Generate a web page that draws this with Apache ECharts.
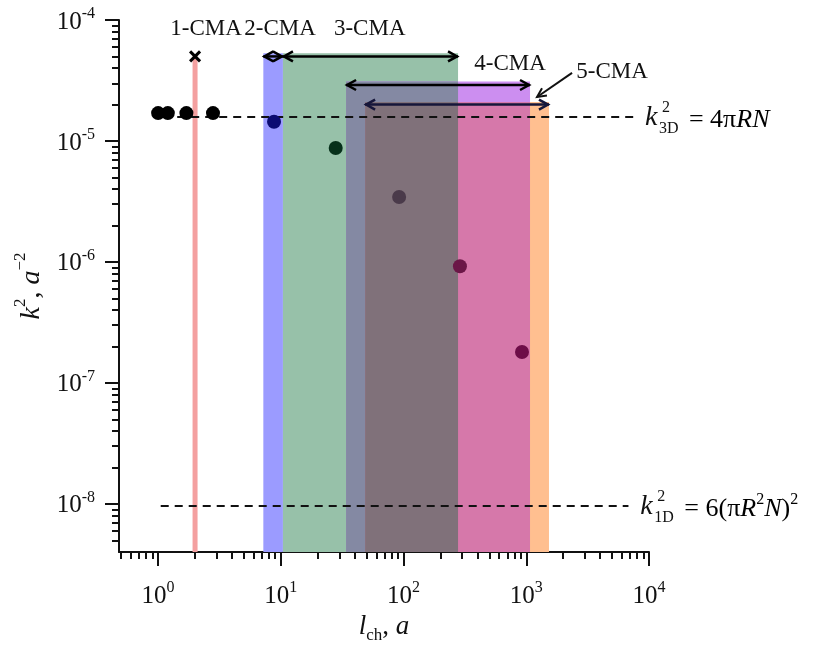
<!DOCTYPE html>
<html>
<head>
<meta charset="utf-8">
<style>
html, body { margin: 0; padding: 0; background: #fff; }
#chart { width: 815px; height: 649px; }
</style>
<script src="https://cdn.jsdelivr.net/npm/echarts@6/dist/echarts.min.js"></script>
</head>
<body>
<div id="chart"></div>
<script>
const SERIF = '"Liberation Serif", "DejaVu Serif", serif';
const INK = '#111';

// measured points: characteristic length l_ch (a) vs k^2 (a^-2)
const dotL = [1.0, 1.2, 1.7, 2.8, 8.8, 28, 92, 288, 923];
const dotK2 = [1.7e-5, 1.7e-5, 1.7e-5, 1.7e-5, 1.44e-5, 8.75e-6, 3.44e-6, 9.2e-7, 1.8e-7];
const dotColors = ['#000', '#000', '#000', '#000', '#0c0c72', '#06301a', '#4a3a4a', '#6b1747', '#6d0d48'];

// CMA ranges along l_ch
const cmaNames = ['1-CMA', '2-CMA', '3-CMA', '4-CMA', '5-CMA'];
const cmaFrom = [2, 7.2, 10.4, 34, 48.6];
const cmaTo = [2, 10.4, 278, 1073, 1531];
const cmaArrowK2 = [5e-5, 5e-5, 5e-5, 2.9e-5, 2.0e-5];
const cmaTopK2 = [5e-5, 5.3e-5, 5.3e-5, 3.1e-5, 2.1e-5];
const cmaFill = ['#f4a0a0', '#9b9bff', '#97c1a9', '#cc8ef0', '#ffbf90'];
const cmaArrowColor = ['#000', '#000', '#000', '#000', '#16163a'];
const cmaLabelL = [2.46, 9.86, 53, 738, 5000];
const cmaLabelK2 = [8.4e-5, 8.4e-5, 8.4e-5, 4.33e-5, 3.7e-5];
// pointer from the 5-CMA caption to its band
const pointerFrom = [2360, 3.65e-5];
const pointerTo = [1224, 2.31e-5];

// shading where CMA ranges overlap (indices into the CMA arrays)
const overlapSets = [[2, 3], [3, 4], [2, 3, 4]];
const overlapFill = ['#8489a3', '#d678aa', '#80717a'];

// limiting values of k^2
const k3D = 1.58e-5;
const k1D = 9.6e-9;
const k3DSpan = [1.1, 7900];
const k1DSpan = [1.05, 6800];
const k3DLabelAt = [9270, k3D];
const k1DLabelAt = [8500, k1D];

// axes
const lMin = 0.48, lMax = 1e4;
const kMin = 4e-9, kMax = 1e-4;
const lMajor = [1, 10, 100, 1000, 10000];
const kMajor = [1e-8, 1e-7, 1e-6, 1e-5, 1e-4];

function minorTicks(e0, e1, lo, hi) {
  const out = [];
  for (let e = e0; e <= e1; e++) {
    for (let m = 2; m <= 9; m++) {
      const v = m * Math.pow(10, e);
      if (v > lo * 1.0001 && v < hi * 0.9999) out.push(v);
    }
  }
  return out;
}
const lMinor = minorTicks(-1, 3, lMin, lMax);
const kMinor = minorTicks(-9, -5, kMin, kMax);

const exponent = v => Math.round(Math.log10(v));
const tickRich = {
  b: { fontSize: 25, fontFamily: SERIF, color: INK, lineHeight: 29, verticalAlign: 'bottom' },
  s: { fontSize: 16, fontFamily: SERIF, color: INK, lineHeight: 19, verticalAlign: 'top' }
};

// band rectangles: single ranges first, then overlaps on top
const bandData = [];
for (let i = 0; i < cmaNames.length; i++) {
  bandData.push({ value: [cmaFrom[i], cmaTo[i], cmaTopK2[i]], itemStyle: { color: cmaFill[i] } });
}
overlapSets.forEach((set, j) => {
  const from = Math.max(...set.map(i => cmaFrom[i]));
  const to = Math.min(...set.map(i => cmaTo[i]));
  const top = Math.min(...set.map(i => cmaTopK2[i]));
  bandData.push({ value: [from, to, top], itemStyle: { color: overlapFill[j] } });
});

const arrowData = cmaNames.map((n, i) => ({
  value: [cmaFrom[i], cmaTo[i], cmaArrowK2[i]],
  itemStyle: { color: cmaArrowColor[i] }
}));

const labelData = cmaNames.map((n, i) => ({ value: [cmaLabelL[i], cmaLabelK2[i]], name: n }));

const scatterData = dotL.map((l, i) => ({ value: [l, dotK2[i]], itemStyle: { color: dotColors[i], opacity: 1 } }));

function sym(x, y, text, size, italic) {
  return {
    type: 'text', x: x, y: y,
    style: {
      text: text, fontSize: size, fontFamily: SERIF, fontStyle: italic ? 'italic' : 'normal',
      fill: INK, align: 'left', verticalAlign: 'middle'
    }
  };
}
const formulaRich = {
  n: { fontSize: 26, fontFamily: SERIF, color: INK, lineHeight: 30, verticalAlign: 'bottom' },
  i: { fontSize: 26, fontFamily: SERIF, fontStyle: 'italic', color: INK, lineHeight: 30, verticalAlign: 'bottom' },
  s: { fontSize: 16, fontFamily: SERIF, color: INK, lineHeight: 19, verticalAlign: 'top' }
};
function formula(p, sub, rest) {
  return {
    type: 'group',
    children: [
      sym(p[0], p[1] + 1, 'k', 28, true),
      sym(p[0] + 17, p[1] - 9, '2', 16, false),
      sym(p[0] + 14, p[1] + 12, sub, 16, false),
      {
        type: 'text', x: p[0] + 44, y: p[1] + 1,
        style: { text: rest, rich: formulaRich, align: 'left', verticalAlign: 'middle' }
      }
    ]
  };
}

const option = {
  animation: false,
  backgroundColor: '#fff',
  grid: { left: 119, right: 166, top: 20, bottom: 97, outerBoundsMode: 'none', containLabel: false },
  xAxis: [
    {
      type: 'log', logBase: 10, min: lMin, max: lMax, position: 'bottom',
      name: '{i|l}{sub|ch}{n|, }{i|a}', nameLocation: 'middle', nameGap: 58,
      nameTextStyle: {
        rich: {
          i: { fontSize: 27, fontFamily: SERIF, fontStyle: 'italic', color: INK, lineHeight: 30, verticalAlign: 'top' },
          n: { fontSize: 27, fontFamily: SERIF, color: INK, lineHeight: 30, verticalAlign: 'top' },
          sub: { fontSize: 17, fontFamily: SERIF, color: INK, lineHeight: 20, verticalAlign: 'bottom' }
        }
      },
      axisLine: { show: true, onZero: false, lineStyle: { color: INK, width: 2 } },
      axisTick: { show: true, length: 14, lineStyle: { color: INK, width: 2 }, customValues: lMajor },
      axisLabel: { customValues: lMajor, margin: 28, formatter: v => `{b|10}{s|${exponent(v)}}`, rich: tickRich },
      splitLine: { show: false }
    },
    {
      type: 'log', logBase: 10, min: lMin, max: lMax, position: 'bottom',
      axisLine: { show: false },
      axisTick: { show: true, length: 7, lineStyle: { color: INK, width: 2 }, customValues: lMinor },
      axisLabel: { show: false },
      splitLine: { show: false }
    }
  ],
  yAxis: [
    {
      type: 'log', logBase: 10, min: kMin, max: kMax, position: 'left',
      name: '{i|k}{s|2}{n|, }{i|a}{s|\u22122}', nameLocation: 'middle', nameGap: 70, nameRotate: 90,
      nameTextStyle: {
        rich: {
          i: { fontSize: 28, fontFamily: SERIF, fontStyle: 'italic', color: INK, lineHeight: 34, verticalAlign: 'bottom' },
          n: { fontSize: 28, fontFamily: SERIF, color: INK, lineHeight: 34, verticalAlign: 'bottom' },
          s: { fontSize: 17, fontFamily: SERIF, color: INK, lineHeight: 20, verticalAlign: 'top' }
        }
      },
      axisLine: { show: true, onZero: false, lineStyle: { color: INK, width: 2 } },
      axisTick: { show: true, length: 14, lineStyle: { color: INK, width: 2 }, customValues: kMajor },
      axisLabel: { customValues: kMajor, margin: 24, formatter: v => `{b|10}{s|${exponent(v)}}`, rich: tickRich },
      splitLine: { show: false }
    },
    {
      type: 'log', logBase: 10, min: kMin, max: kMax, position: 'left',
      axisLine: { show: false },
      axisTick: { show: true, length: 7, lineStyle: { color: INK, width: 2 }, customValues: kMinor },
      axisLabel: { show: false },
      splitLine: { show: false }
    }
  ],
  series: [
    {
      // CMA bands (a single value is drawn as a thin vertical strip)
      type: 'custom', xAxisIndex: 0, yAxisIndex: 0, z: 1, silent: true,
      data: bandData,
      renderItem(params, api) {
        const from = api.value(0), to = api.value(1), top = api.value(2);
        const a = api.coord([from, top]);
        const b = api.coord([to, kMin]);
        const color = api.visual('color');
        if (from === to) {
          return { type: 'rect', shape: { x: a[0] - 2.5, y: a[1], width: 5, height: b[1] - a[1] }, style: { fill: color } };
        }
        return { type: 'rect', shape: { x: a[0], y: a[1], width: b[0] - a[0], height: b[1] - a[1] }, style: { fill: color } };
      }
    },
    {
      type: 'line', xAxisIndex: 0, yAxisIndex: 0, z: 3, silent: true,
      showSymbol: false, symbol: 'none',
      data: [[k3DSpan[0], k3D], [k3DSpan[1], k3D]],
      lineStyle: { color: INK, width: 2, type: [8, 6] }
    },
    {
      type: 'line', xAxisIndex: 0, yAxisIndex: 0, z: 3, silent: true,
      showSymbol: false, symbol: 'none',
      data: [[k1DSpan[0], k1D], [k1DSpan[1], k1D]],
      lineStyle: { color: INK, width: 2, type: [8, 6] }
    },
    {
      // range arrows; a single value is marked with a cross
      type: 'custom', xAxisIndex: 0, yAxisIndex: 0, z: 4, silent: true,
      data: arrowData,
      renderItem(params, api) {
        const a = api.coord([api.value(0), api.value(2)]);
        const b = api.coord([api.value(1), api.value(2)]);
        const c = api.visual('color');
        const st = { stroke: c, lineWidth: 2.5, fill: null };
        if (api.value(0) === api.value(1)) {
          const r = 5;
          return {
            type: 'group', children: [
              { type: 'line', shape: { x1: a[0] - r, y1: a[1] - r, x2: a[0] + r, y2: a[1] + r }, style: { stroke: c, lineWidth: 3 } },
              { type: 'line', shape: { x1: a[0] - r, y1: a[1] + r, x2: a[0] + r, y2: a[1] - r }, style: { stroke: c, lineWidth: 3 } }
            ]
          };
        }
        const h = 10, w = 5;
        return {
          type: 'group', children: [
            { type: 'line', shape: { x1: a[0], y1: a[1], x2: b[0], y2: b[1] }, style: st },
            { type: 'polyline', shape: { points: [[a[0] + h, a[1] - w], [a[0] + 1, a[1]], [a[0] + h, a[1] + w]] }, style: st },
            { type: 'polyline', shape: { points: [[b[0] - h, b[1] - w], [b[0] - 1, b[1]], [b[0] - h, b[1] + w]] }, style: st }
          ]
        };
      }
    },
    {
      type: 'scatter', xAxisIndex: 0, yAxisIndex: 0, z: 5, silent: true,
      symbol: 'circle', symbolSize: 14,
      data: scatterData
    },
    {
      // CMA captions
      type: 'custom', xAxisIndex: 0, yAxisIndex: 0, z: 6, silent: true,
      data: labelData,
      renderItem(params, api) {
        const p = api.coord([api.value(0), api.value(1)]);
        return {
          type: 'text', x: p[0], y: p[1],
          style: {
            text: cmaNames[params.dataIndex], fontSize: 23, fontFamily: SERIF, fill: INK,
            align: 'center', verticalAlign: 'middle'
          }
        };
      }
    },
    {
      // pointer to the 5-CMA band
      type: 'custom', xAxisIndex: 0, yAxisIndex: 0, z: 6, silent: true,
      data: [[pointerFrom[0], pointerFrom[1], pointerTo[0], pointerTo[1]]],
      renderItem(params, api) {
        const a = api.coord([api.value(0), api.value(1)]);
        const b = api.coord([api.value(2), api.value(3)]);
        const ang = Math.atan2(b[1] - a[1], b[0] - a[0]);
        const h = 10, spread = 0.45;
        const st = { stroke: INK, lineWidth: 2, fill: null };
        return {
          type: 'group', children: [
            { type: 'line', shape: { x1: a[0], y1: a[1], x2: b[0], y2: b[1] }, style: st },
            {
              type: 'polyline', shape: {
                points: [
                  [b[0] - h * Math.cos(ang - spread), b[1] - h * Math.sin(ang - spread)],
                  [b[0], b[1]],
                  [b[0] - h * Math.cos(ang + spread), b[1] - h * Math.sin(ang + spread)]
                ]
              }, style: st
            }
          ]
        };
      }
    },
    {
      // limit formulas at the end of the dashed lines
      type: 'custom', xAxisIndex: 0, yAxisIndex: 0, z: 6, silent: true,
      data: [k3DLabelAt, k1DLabelAt],
      renderItem(params, api) {
        const p = api.coord([api.value(0), api.value(1)]);
        if (params.dataIndex === 0) {
          return formula(p, '3D', '{n|= 4\u03c0}{i|RN}');
        }
        return formula(p, '1D', '{n|= 6(\u03c0}{i|R}{s|2}{i|N}{n|)}{s|2}');
      }
    }
  ]
};

const chart = echarts.init(document.getElementById('chart'));
chart.setOption(option);
</script>
</body>
</html>
